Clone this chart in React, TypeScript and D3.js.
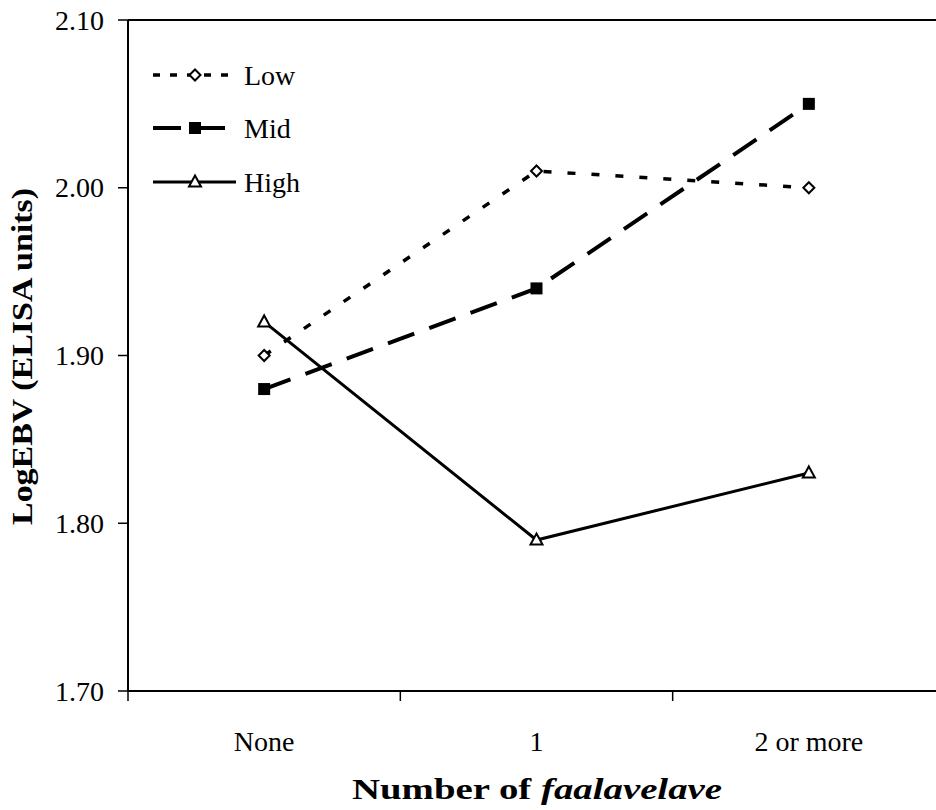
import React from "react";
import * as d3 from "d3";

const categories = ["None", "1", "2 or more"];
const lowValues = [1.9, 2.01, 2.0];
const midValues = [1.88, 1.94, 2.05];
const highValues = [1.92, 1.79, 1.83];
const yTicks = [1.7, 1.8, 1.9, 2.0, 2.1];

const series = [
  { name: "Low", values: lowValues, dash: "8,16", width: 3.5, marker: "diamond" },
  { name: "Mid", values: midValues, dash: "28,16", width: 4, marker: "square" },
  { name: "High", values: highValues, dash: null, width: 3, marker: "triangle" },
];

const font = "'Liberation Serif', 'Times New Roman', serif";

const Marker = ({ type, x, y }: { type: string; x: number; y: number }) => {
  if (type === "diamond") {
    const r = 5.5;
    return (
      <path
        d={`M${x},${y - r}L${x + r},${y}L${x},${y + r}L${x - r},${y}Z`}
        fill="#fff"
        stroke="#000"
        strokeWidth={2}
      />
    );
  }
  if (type === "square") {
    return <rect x={x - 6} y={y - 6} width={12} height={12} fill="#000" />;
  }
  return (
    <path
      d={`M${x},${y - 6.5}L${x + 6},${y + 4.5}L${x - 6},${y + 4.5}Z`}
      fill="#fff"
      stroke="#000"
      strokeWidth={2}
    />
  );
};

export default function App() {
  const width = 936;
  const height = 810;
  const left = 128;
  const top = 20;
  const bottom = 691;
  const plotRight = 945;
  const fs = 28;

  const x = d3.scaleBand().domain(categories).range([left, plotRight]);
  const y = d3.scaleLinear().domain([1.7, 2.1]).range([bottom, top]);

  const line = d3
    .line<number>()
    .x((_, i) => (x(categories[i]) as number) + x.bandwidth() / 2)
    .y((d) => y(d));

  const legendY = [75, 128, 182];

  return (
    <svg
      width={width}
      height={height}
      style={{ position: "absolute", left: 0, top: 0, background: "#fff" }}
      fontFamily={font}
    >
      <rect width={width} height={height} fill="#fff" />
      {/* top border */}
      <line x1={left} x2={plotRight} y1={top} y2={top} stroke="#000" strokeWidth={2} />
      {/* y axis */}
      <line x1={left} x2={left} y1={top} y2={bottom} stroke="#000" strokeWidth={2} />
      {yTicks.map((t) => (
        <g key={t}>
          <line x1={left - 10} x2={left} y1={y(t)} y2={y(t)} stroke="#000" strokeWidth={1.5} />
          <text x={104} y={y(t) + 9.5} textAnchor="end" fontSize={fs}>
            {t.toFixed(2)}
          </text>
        </g>
      ))}
      {/* x axis */}
      <line x1={left} x2={plotRight} y1={bottom} y2={bottom} stroke="#000" strokeWidth={2} />
      {categories.map((c) => (
        <g key={c}>
          <line
            x1={x(c) as number}
            x2={x(c) as number}
            y1={bottom}
            y2={bottom + 10}
            stroke="#000"
            strokeWidth={1.5}
          />
          <text
            x={(x(c) as number) + x.bandwidth() / 2}
            y={751}
            textAnchor="middle"
            fontSize={fs}
          >
            {c}
          </text>
        </g>
      ))}
      <text
        x={352}
        y={799}
        fontSize={30}
        fontWeight="bold"
        textLength={370}
        lengthAdjust="spacingAndGlyphs"
      >
        Number of <tspan fontStyle="italic">faalavelave</tspan>
      </text>
      <text
        transform={`translate(32,525) rotate(-90)`}
        fontSize={30}
        fontWeight="bold"
        textLength={337}
        lengthAdjust="spacingAndGlyphs"
      >
        LogEBV (ELISA units)
      </text>

      {/* series */}
      {series.map((s) => (
        <g key={s.name}>
          <path
            d={line(s.values) as string}
            fill="none"
            stroke="#000"
            strokeWidth={s.width}
            strokeDasharray={s.dash ?? undefined}
          />
          {s.values.map((v, i) => (
            <Marker
              key={i}
              type={s.marker}
              x={(x(categories[i]) as number) + x.bandwidth() / 2}
              y={y(v)}
            />
          ))}
        </g>
      ))}

      {/* legend */}
      {series.map((s, i) => (
        <g key={s.name}>
          <line
            x1={153}
            x2={236}
            y1={legendY[i]}
            y2={legendY[i]}
            stroke="#000"
            strokeWidth={s.width}
            strokeDasharray={s.name === "Low" ? "7,10" : s.name === "Mid" ? "28,16" : undefined}
          />
          <Marker type={s.marker} x={195} y={legendY[i]} />
          <text x={244} y={legendY[i] + 9.5} fontSize={fs}>
            {s.name}
          </text>
        </g>
      ))}
    </svg>
  );
}
